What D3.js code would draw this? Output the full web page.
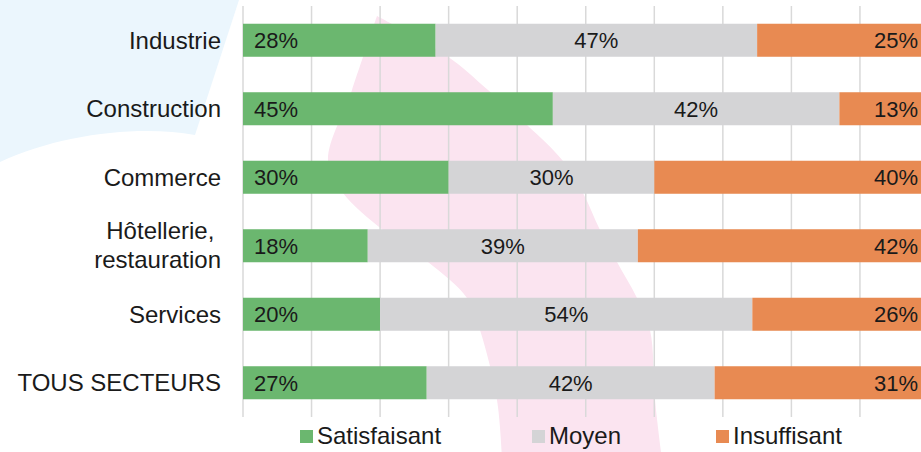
<!DOCTYPE html>
<html>
<head>
<meta charset="utf-8">
<script src="https://cdn.jsdelivr.net/npm/d3@7"></script>
<style>
body{margin:0;background:#fff;}
svg{display:block;font-family:"Liberation Sans",Arial,sans-serif;}
</style>
</head>
<body>
<svg id="chart" width="921" height="452"></svg>
<script>
// categories (top to bottom)
var sectors = ["Industrie","Construction","Commerce","Hôtellerie, \nrestauration","Services","TOUS SECTEURS"];
// shares (%)
var satisfaisant = [28.1, 45.2, 30.0, 18.2, 20.0, 26.8];
var moyen        = [46.9, 41.8, 30.0, 39.4, 54.3, 42.0];
var insuffisant  = [25.0, 13.0, 40.0, 42.4, 25.7, 31.2];
var seriesNames  = ["Satisfaisant","Moyen","Insuffisant"];
var seriesColors = ["#6bb76f","#d4d4d6","#e88a52"];
var gridTicks    = [0,10,20,30,40,50,60,70,80,90];

var svg = d3.select("#chart");

// fond décoratif
var bg = svg.append("g");
bg.append("path")
	.attr("d","M0,0 L239,0 L195,135 C140,125 60,134 0,162 Z")
	.attr("fill","#ebf6fd");
var pinkRight = [[377,16],[447,56],[488,90],[527,125],[563,161],[583,193],[600,230],[617,262],[637,298],[650,330],[655,400],[662,460]];
var pinkLeft  = [[502,460],[497,400],[480,330],[467,298],[428,262],[383,230],[343,193],[328,161],[352,90],[377,16]];
var pinkLine = d3.line().curve(d3.curveCatmullRom.alpha(0.5));
bg.append("path")
	.attr("d", pinkLine(pinkRight) + "L" + pinkLine(pinkLeft).slice(1) + "Z")
	.attr("fill","#fbe4f0");

var x = d3.scaleLinear().domain([0,100]).range([243,928.5]);
var y = d3.scaleBand().domain(sectors).range([6,417]).paddingInner(0.518).paddingOuter(0.259);

// grille verticale
svg.append("g").selectAll("line")
	.data(gridTicks)
	.enter()
	.append("line")
	.attr("x1",d=>x(d)).attr("x2",d=>x(d))
	.attr("y1",6).attr("y2",417)
	.style("stroke","#d9d9d9")
	.style("stroke-width",1.5);

var rows = sectors.map((s,i)=>({sector:s, Satisfaisant:satisfaisant[i], Moyen:moyen[i], Insuffisant:insuffisant[i]}));
var stack = d3.stack().keys(seriesNames)(rows);

var layers = svg.append("g").selectAll("g")
	.data(stack)
	.enter()
	.append("g")
	.attr("fill",(d,i)=>seriesColors[i]);

layers.selectAll("rect")
	.data(d=>d)
	.enter()
	.append("rect")
	.attr("x",d=>x(d[0]))
	.attr("width",d=>x(d[1])-x(d[0]))
	.attr("y",d=>y(d.data.sector))
	.attr("height",y.bandwidth());

// étiquettes de valeurs
var labels = svg.append("g").style("font-size","22px").style("fill","#1a1a1a");
stack.forEach((layer,k)=>{
	labels.selectAll(".lab"+k)
		.data(layer)
		.enter()
		.append("text")
		.attr("x",d=>k==0 ? x(d[0])+11 : k==1 ? (x(d[0])+x(d[1]))/2 : x(d[1])-10.5)
		.attr("y",d=>y(d.data.sector)+y.bandwidth()/2)
		.attr("dy","0.36em")
		.attr("text-anchor",k==0 ? "start" : k==1 ? "middle" : "end")
		.text(d=>Math.round(d[1]-d[0])+"%");
});

// axe des catégories
var cat = svg.append("g").style("font-size","24px").style("fill","#1a1a1a").style("white-space","pre");
sectors.forEach(s=>{
	var lines = s.split("\n");
	var t = cat.append("text")
		.attr("text-anchor","end")
		.attr("y",y(s)+y.bandwidth()/2);
	lines.forEach((l,j)=>{
		t.append("tspan")
			.attr("x",221)
			.attr("dy",j==0 ? (0.35-(lines.length-1)*0.64)+"em" : "1.2em")
			.text(l);
	});
});

// légende
var legendX = [300,532,716];
var legend = svg.append("g").style("font-size","24px").style("fill","#1a1a1a");
seriesNames.forEach((n,i)=>{
	legend.append("rect")
		.attr("x",legendX[i]).attr("y",430)
		.attr("width",13).attr("height",13)
		.attr("fill",seriesColors[i]);
	legend.append("text")
		.attr("x",legendX[i]+17).attr("y",444)
		.text(n);
});
</script>
</body>
</html>
